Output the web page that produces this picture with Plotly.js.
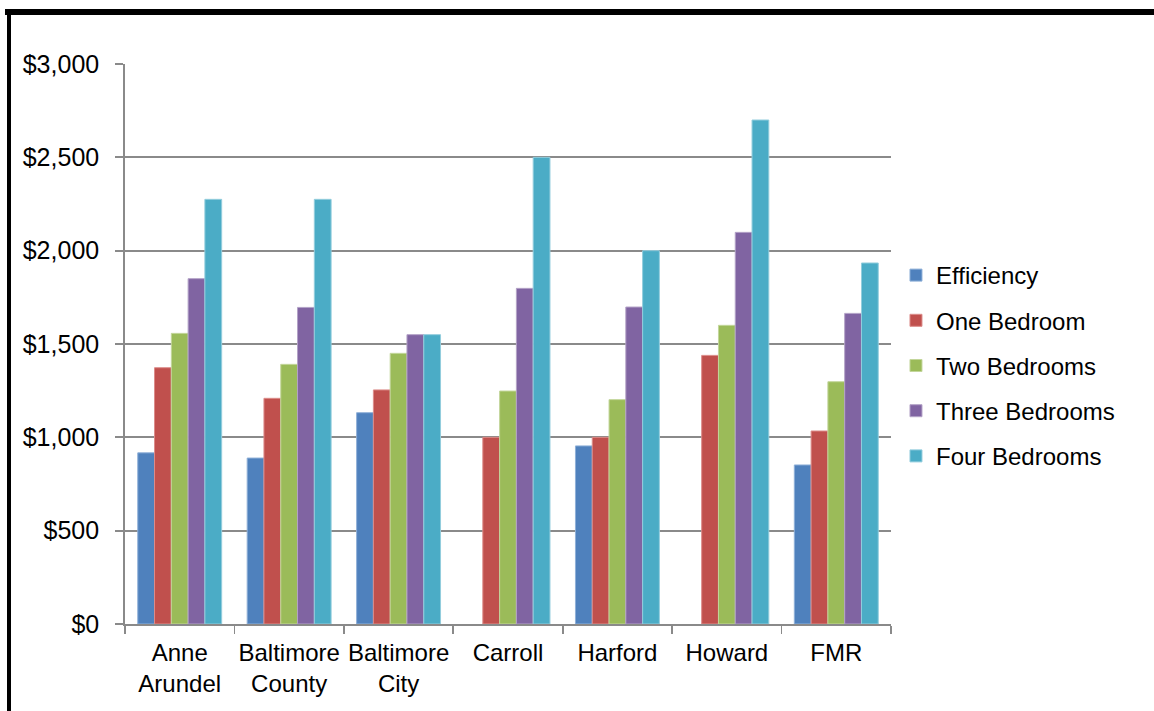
<!DOCTYPE html>
<html>
<head>
<meta charset="utf-8">
<script src="https://cdn.plot.ly/plotly-3.0.1.min.js"></script>
<style>
  html, body { margin: 0; padding: 0; background: #ffffff; }
  #wrap { position: relative; width: 1154px; height: 711px; overflow: hidden; }
  #chart { position: absolute; left: 0; top: 0; width: 1154px; height: 711px; }
  .frame-top { position: absolute; left: 5px; top: 9px; width: 1149px; height: 6px; background: #000; }
  .frame-left { position: absolute; left: 7px; top: 10px; width: 4px; height: 701px; background: #000; }
</style>
</head>
<body>
<div id="wrap">
  <div id="chart"></div>
  <div class="frame-top"></div>
  <div class="frame-left"></div>
</div>
<script>
// Monthly rents by jurisdiction and unit size
const categories = ["Anne<br>Arundel", "Baltimore<br>County", "Baltimore<br>City", "Carroll", "Harford", "Howard", "FMR"];
const seriesNames = ["Efficiency", "One Bedroom", "Two Bedrooms", "Three Bedrooms", "Four Bedrooms"];
const efficiency    = [917, 889, 1132, null, 954, null, 852];
const oneBedroom    = [1373, 1209, 1254, 1000, 1000, 1439, 1034];
const twoBedrooms   = [1557, 1391, 1450, 1248, 1202, 1600, 1298];
const threeBedrooms = [1850, 1696, 1550, 1798, 1698, 2098, 1664];
const fourBedrooms  = [2275, 2275, 1550, 2500, 2000, 2700, 1934];
const yTickValues   = [0, 500, 1000, 1500, 2000, 2500, 3000];
const yTickLabels   = ["$0", "$500", "$1,000", "$1,500", "$2,000", "$2,500", "$3,000"];

const colors = ["#4F81BD", "#C0504D", "#9BBB59", "#8064A2", "#4BACC6"];
const edges  = ["#8fb0d8", "#dc8c8a", "#c3d69b", "#b3a2c7", "#93cddd"];
const allSeries = [efficiency, oneBedroom, twoBedrooms, threeBedrooms, fourBedrooms];

const traces = allSeries.map((vals, i) => ({
  type: "bar",
  name: seriesNames[i],
  x: categories,
  y: vals,
  legendgroup: "g" + i,
  marker: { color: colors[i], line: { color: edges[i], width: 1 } },
  hoverinfo: "x+y+name"
}));

const gridGray = "#8a8a8a";
const font = "'Liberation Sans', Arial, sans-serif";

const layout = {
  width: 1154,
  height: 711,
  margin: { l: 125, r: 263, t: 64, b: 87, pad: 0 },
  paper_bgcolor: "#ffffff",
  plot_bgcolor: "#ffffff",
  font: { family: font, size: 24, color: "#000000" },
  barmode: "group",
  bargap: 0.233,
  bargroupgap: 0,
  showlegend: true,
  legend: {
    x: 1.0065, xanchor: "left", y: 0.4616, yanchor: "middle",
    font: { family: font, size: 24, color: "#000000" },
    tracegroupgap: 11,
    bgcolor: "rgba(0,0,0,0)",
    borderwidth: 0
  },
  xaxis: {
    type: "category",
    showgrid: false,
    showline: true,
    linecolor: gridGray,
    linewidth: 1.8,
    ticks: "outside",
    tickson: "boundaries",
    ticklen: 8,
    tickwidth: 1.8,
    tickcolor: gridGray,
    tickangle: 0,
    ticklabelstandoff: 6,
    tickfont: { family: font, size: 24, color: "#000000" },
    fixedrange: true,
    zeroline: false
  },
  yaxis: {
    range: [0, 3000],
    tickvals: yTickValues,
    ticktext: yTickLabels,
    showgrid: true,
    gridcolor: gridGray,
    gridwidth: 1.8,
    showline: true,
    linecolor: gridGray,
    linewidth: 1.8,
    ticks: "outside",
    ticklen: 8,
    tickwidth: 1.8,
    tickcolor: gridGray,
    ticklabelstandoff: 11,
    tickfont: { family: font, size: 25, color: "#000000" },
    zeroline: false,
    fixedrange: true
  }
};

Plotly.newPlot("chart", traces, layout, { displayModeBar: false, staticPlot: true });
</script>
</body>
</html>
